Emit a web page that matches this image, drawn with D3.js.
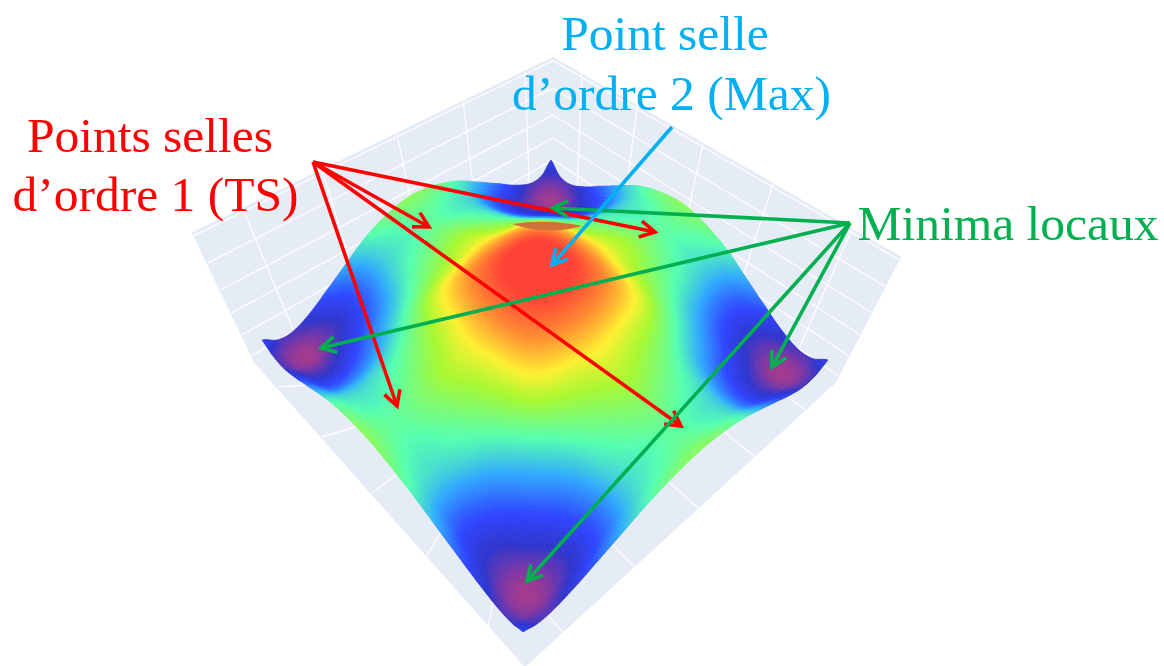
<!DOCTYPE html>
<html><head><meta charset="utf-8">
<script src="https://cdnjs.cloudflare.com/ajax/libs/d3/7.8.5/d3.min.js"></script>
<style>html,body{margin:0;padding:0;background:#fff}svg{display:block}</style></head>
<body><svg id="c" width="1164" height="666"></svg>
<script>
const heightKnots = [0,.15,.3,.45,.6,.72,.84,.93,1];
const heightRows = [
 [1.00,.95,.81,.67,.58,.52,.48,.50,.55],
 [ .95,.91,.79,.63,.54,.484,.446,.465,.52],
 [ .81,.79,.72,.57,.47,.42,.39,.405,.45],
 [ .67,.63,.57,.47,.36,.288,.248,.263,.34],
 [ .58,.54,.47,.36,.26,.182,.136,.151,.23],
 [ .52,.484,.42,.288,.182,.118,.071,.084,.145],
 [ .48,.446,.39,.248,.136,.071,.018,.033,.09],
 [ .50,.465,.405,.263,.151,.084,.033,.047,.10],
 [ .55,.52,.45,.34,.23,.145,.09,.10,.17]
];
const colorStops = [0,.05,.11,.2,.33,.46,.6,.71,.83,.95];
const colorValues = ["#b23a82","#7d36a4","#2f35cc","#2f45ff","#30a8ff","#55ffb0","#a8f830","#fff030","#ff8c30","#ff4035"];
const surfaceCorners = [[551,160],[828,360],[523,632],[262,340]]; // back, right, front, left
const wallOutline = [[193,233],[553,58],[900,257],[835,382],[525,666],[255,362]];
const nadir = [554,967];
const floorBack = [553,187];
const leftWallTicks = [243,322,397,463,525];
const rightWallTicks = [582,637,703,773,852];
const frontRightTicks = [[563,632],[635,567],[698,508],[755,457],[805,410]];
const frontLeftTicks = [[278,387],[322,437],[372,493],[426,557],[488,627]];
const wallZFractions = [.98,.767,.558,.38,.21,.05];
const domeLens = "M512,224 Q546,218 582,226 Q548,236 512,224Z";
const redFrom=[313,162], redTips=[[429,227],[655,232],[681,426],[397,406]];
const blueFrom=[672,127], blueTips=[[552,265]];
const greenFrom=[850,223], greenTips=[[553,208],[321,348],[772,367],[527,581]];
const labels=[
 {t:"Points selles",x:150,y:152,c:"#FF0000"},
 {t:"d’ordre 1 (TS)",x:155.5,y:211,c:"#FF0000"},
 {t:"Point selle",x:665,y:50,c:"#00B0F0"},
 {t:"d’ordre 2 (Max)",x:671.5,y:110,c:"#00B0F0"},
 {t:"Minima locaux",x:1008,y:240,c:"#00B050"}
];

const svg=d3.select("#c");
const defs=svg.append("defs");
defs.append("filter").attr("id","soft").attr("x","-5%").attr("y","-5%").attr("width","110%").attr("height","110%")
 .append("feGaussianBlur").attr("stdDeviation",.7);
const line=d3.line();
const color=d3.scaleLinear().domain(colorStops).range(colorValues).clamp(true);
const gain=d3.scaleLinear().domain([.17,1]).range([1,1.14]);
const knotIdx=d3.scaleLinear().domain(heightKnots).range(heightKnots.map((_,i)=>i));
const N=130;
const cellIdx=d3.scaleLinear().domain([0,N]).range([-1,1]);

// backdrop
svg.append("path").attr("d",line(wallOutline)+"Z").attr("fill","#E5ECF6").attr("stroke","#E5ECF6").attr("stroke-width",2).attr("stroke-linejoin","round");
const [WL,WT,WR,FR,FF,FL]=wallOutline;
const lerp=(a,b,t)=>[a[0]+(b[0]-a[0])*t,a[1]+(b[1]-a[1])*t];
const grid=svg.append("g").attr("stroke","#fff").attr("stroke-width",1.4).attr("fill","none").attr("opacity",.85);
leftWallTicks.forEach((x,i)=>{const t=(x-WL[0])/(WT[0]-WL[0]);
 const top=lerp(WL,WT,t),bot=lerp(FL,floorBack,t);
 grid.append("path").attr("d",line([top,bot,frontRightTicks[i]]));});
rightWallTicks.forEach((x,i)=>{const t=(x-WT[0])/(WR[0]-WT[0]);
 const top=lerp(WT,WR,t),bot=lerp(floorBack,FR,t);
 grid.append("path").attr("d",line([top,bot,frontLeftTicks[4-i]]));});
wallZFractions.forEach(f=>{
 grid.append("path").attr("d",line([lerp(FL,WL,f),lerp(floorBack,WT,f),lerp(FR,WR,f)]));});

function homography(q){const [p0,p1,p2,p3]=q;
 const dx1=p1[0]-p2[0],dx2=p3[0]-p2[0],sx=p0[0]-p1[0]+p2[0]-p3[0];
 const dy1=p1[1]-p2[1],dy2=p3[1]-p2[1],sy=p0[1]-p1[1]+p2[1]-p3[1];
 const den=dx1*dy2-dx2*dy1;
 const g=(sx*dy2-dx2*sy)/den,h=(dx1*sy-sx*dy1)/den;
 const a=p1[0]-p0[0]+g*p1[0],b=p3[0]-p0[0]+h*p3[0],c=p0[0];
 const d=p1[1]-p0[1]+g*p1[1],e=p3[1]-p0[1]+h*p3[1],f=p0[1];
 return (u,v)=>{const s=(u+1)/2,t=(v+1)/2,w=g*s+h*t+1;return [(a*s+b*t+c)/w,(d*s+e*t+f)/w];};
}
const H=homography(surfaceCorners);
const at=(i,j)=>{const c=k=>Math.min(8,Math.abs(k));return heightRows[c(j)][c(i)];};
const cr=(p0,p1,p2,p3,t)=>.5*(2*p1+(p2-p0)*t+(2*p0-5*p1+4*p2-p3)*t*t+(3*p1-p0-3*p2+p3)*t*t*t);
const sIdx=u=>Math.sign(u)*knotIdx(Math.abs(u));
function height(u,v){const x=sIdx(u),y=sIdx(v),i=Math.min(7,Math.floor(x)),j=Math.min(7,Math.floor(y)),tx=x-i,ty=y-j;
 const r=[];for(let n=-1;n<=2;n++){r.push(cr(at(i-1,j+n),at(i,j+n),at(i+1,j+n),at(i+2,j+n),tx));}
 return cr(r[0],r[1],r[2],r[3],ty);}
function proj(u,v){const p=H(u,v),g=gain(height(u,v));
 return [nadir[0]+(p[0]-nadir[0])*g,nadir[1]+(p[1]-nadir[1])*g];}

const cells=[];
for(let i=0;i<N;i++)for(let j=0;j<N;j++)cells.push([i,j]);
cells.sort((a,b)=>(a[0]+a[1])-(b[0]+b[1]));
const surf=svg.append("g").attr("class","surface").attr("filter","url(#soft)");
surf.selectAll("path").data(cells).join("path")
 .attr("d",([i,j])=>{const a=cellIdx(i),b=cellIdx(i+1),c=cellIdx(j),d=cellIdx(j+1);
   return line([proj(a,c),proj(b,c),proj(b,d),proj(a,d)])+"Z";})
 .attr("fill",([i,j])=>color(height(cellIdx(i+.5),cellIdx(j+.5))))
 .attr("stroke",([i,j])=>color(height(cellIdx(i+.5),cellIdx(j+.5))))
 .attr("stroke-width",.8);
svg.append("path").attr("d",domeLens).attr("fill","#d0703a").attr("filter","url(#soft)");

function arrow(from,tip,col){const g=svg.append("g").attr("fill","none").attr("stroke",col).attr("stroke-width",3.6);
 g.append("path").attr("d",line([from,tip]));
 const ang=Math.atan2(from[1]-tip[1],from[0]-tip[0]),L=17,s=.5;
 g.append("path").attr("stroke-linejoin","miter").attr("d",line([[tip[0]+L*Math.cos(ang+s),tip[1]+L*Math.sin(ang+s)],tip,[tip[0]+L*Math.cos(ang-s),tip[1]+L*Math.sin(ang-s)]]));}
redTips.forEach(t=>arrow(redFrom,t,"#FF0000"));
greenTips.forEach(t=>arrow(greenFrom,t,"#00B050"));
blueTips.forEach(t=>arrow(blueFrom,t,"#00B0F0"));

svg.selectAll("text.l").data(labels).join("text").attr("class","l")
 .attr("x",d=>d.x).attr("y",d=>d.y).attr("fill",d=>d.c).attr("text-anchor","middle")
 .attr("font-family","'Liberation Serif',serif").attr("font-size",49.5).text(d=>d.t);
</script></body></html>
